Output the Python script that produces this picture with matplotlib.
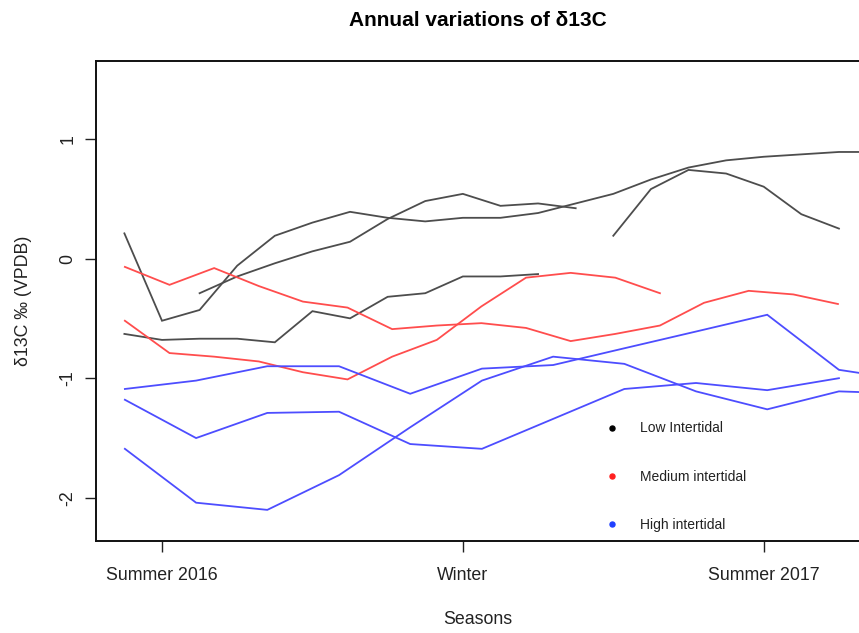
import numpy as np
import matplotlib.pyplot as plt
from matplotlib.lines import Line2D

plt.rcParams["font.family"] = ["Liberation Sans", "DejaVu Sans"]

# x positions in months after Summer 2016 (sampling dates differ per zone)
low_x = [-0.75, 0.0, 0.75, 1.5, 2.25, 3.0, 3.75, 4.5, 5.25, 6.0, 6.75,
         7.5, 8.25, 9.0, 9.75, 10.5, 11.25, 12.0, 12.75, 13.5, 14.25]
medium_x = [-0.74, 0.15, 1.04, 1.93, 2.81, 3.70, 4.59, 5.48, 6.37,
            7.26, 8.15, 9.04, 9.93, 10.81, 11.70, 12.59, 13.48]
high_x = [-0.74, 0.68, 2.10, 3.53, 4.95, 6.38, 7.80, 9.22, 10.65,
          12.07, 13.50, 14.92]

nan = np.nan

# Low intertidal (black)
low_1 = [0.21, -0.52, -0.43, -0.06, 0.19, 0.30, 0.39, 0.34, 0.31, 0.34, 0.34,
         0.38, 0.46, 0.54, 0.66, 0.76, 0.82, 0.85, 0.87, 0.89, 0.89]
low_2 = [nan, nan, -0.29, -0.15, -0.04, 0.06, 0.14, 0.33, 0.48, 0.54, 0.44,
         0.46, 0.42, nan, nan, nan, nan, nan, nan, nan, nan]
low_3 = [-0.63, -0.68, -0.67, -0.67, -0.70, -0.44, -0.50, -0.32, -0.29, -0.15,
         -0.15, -0.13, nan, nan, nan, nan, nan, nan, nan, nan, nan]
low_4 = [nan, nan, nan, nan, nan, nan, nan, nan, nan, nan, nan, nan, nan,
         0.19, 0.58, 0.74, 0.71, 0.60, 0.37, 0.25, nan]

# Medium intertidal (red)
medium_1 = [-0.07, -0.22, -0.08, -0.23, -0.36, -0.41, -0.59, -0.56, -0.54,
            -0.58, -0.69, -0.63, -0.56, -0.37, -0.27, -0.30, -0.38]
medium_2 = [-0.52, -0.79, -0.82, -0.86, -0.95, -1.01, -0.82, -0.68, -0.40,
            -0.16, -0.12, -0.16, -0.29, nan, nan, nan, nan]

# High intertidal (blue)
high_1 = [-1.09, -1.02, -0.90, -0.90, -1.13, -0.92, -0.89, -0.75, -0.61,
          -0.47, -0.93, -1.02]
high_2 = [-1.18, -1.50, -1.29, -1.28, -1.55, -1.59, -1.34, -1.09, -1.04,
          -1.10, -1.00, nan]
high_3 = [-1.59, -2.04, -2.10, -1.81, -1.41, -1.02, -0.82, -0.88, -1.11,
          -1.26, -1.11, -1.13]

season_ticks = [0, 6, 12]
season_labels = ["Summer 2016", "Winter", "Summer 2017"]
legend_labels = ["Low Intertidal", "Medium intertidal", "High intertidal"]

W, H = 859, 633
fig = plt.figure(figsize=(W / 100, H / 100), dpi=100)
# plot region in pixels: left 96, right 860, top 61, bottom 541
ax = fig.add_axes([96 / W, (H - 541) / H, (860 - 96) / W, (541 - 61) / H])

line_kw = dict(lw=1.3, solid_joinstyle="miter")
for ys in (low_1, low_2, low_3, low_4):
    ax.plot(low_x, ys, color="#4d4d4d", **line_kw)
for ys in (medium_1, medium_2):
    ax.plot(medium_x, ys, color="#ff4d4d", **line_kw)
for ys in (high_1, high_2, high_3):
    ax.plot(high_x, ys, color="#4d4dff", **line_kw)

ax.set_xlim(-1.316, 13.92)
ax.set_ylim(-2.36, 1.65)

ax.set_xticks(season_ticks)
ax.set_xticklabels(season_labels)
ax.set_yticks([-2, -1, 0, 1])
ax.set_yticklabels(["-2", "-1", "0", "1"], rotation=90, va="center")
ax.tick_params(length=8, width=1, direction="out", labelsize=12.8,
               colors="#222222")
ax.tick_params(axis="x", pad=11)
ax.tick_params(axis="y", pad=6)
for s in ax.spines.values():
    s.set_linewidth(1.4)
    s.set_color("#111111")

ax.set_xlabel("Seasons", fontsize=12.8, color="#222222", va="center")
ax.xaxis.set_label_coords(0.5, -79 / 480)
ax.set_ylabel("δ13C ‰ (VPDB)", fontsize=12.8, color="#222222", va="center")
ax.yaxis.set_label_coords(-72 / 764, 0.5)

ax.set_title("Annual variations of δ13C", fontsize=15, fontweight="bold",
             y=1 + 40 / 480, va="center", pad=0)

handles = [Line2D([], [], ls="none", marker="o", ms=3.6, color=c)
           for c in ("black", "#ff2020", "#2040ff")]
ax.legend(handles, legend_labels, loc="upper left", frameon=False,
          bbox_to_anchor=(0.666, 0.249), fontsize=10, handlelength=1.0,
          handletextpad=1.5, labelspacing=2.45, borderpad=0,
          borderaxespad=0, labelcolor="#222222")

fig.savefig("out.png", dpi=100)
